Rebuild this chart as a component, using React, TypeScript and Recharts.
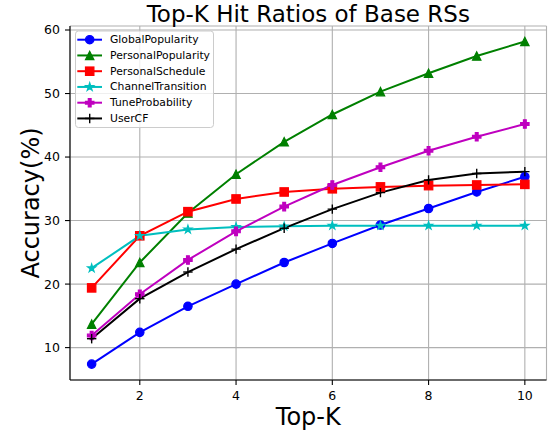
import React from 'react';
import { LineChart, Line, XAxis, YAxis, CartesianGrid } from 'recharts';

const topK = [1, 2, 3, 4, 5, 6, 7, 8, 9, 10];
const globalPopularity = [7.4, 12.4, 16.5, 20.0, 23.4, 26.4, 29.3, 31.9, 34.5, 36.9];
const personalPopularity = [13.7, 23.4, 31.2, 37.3, 42.4, 46.7, 50.3, 53.2, 55.9, 58.2];
const personalSchedule = [19.4, 27.6, 31.4, 33.4, 34.5, 35.0, 35.3, 35.5, 35.6, 35.7];
const channelTransition = [22.5, 27.6, 28.6, 29.0, 29.1, 29.2, 29.2, 29.2, 29.2, 29.2];
const tuneProbability = [11.9, 18.4, 23.8, 28.3, 32.2, 35.6, 38.4, 41.0, 43.2, 45.2];
const userCF = [11.4, 17.7, 21.9, 25.5, 28.8, 31.8, 34.4, 36.4, 37.4, 37.7];

const xTicks = [2, 4, 6, 8, 10];
const yTicks = [10, 20, 30, 40, 50, 60];

const title = 'Top-K Hit Ratios of Base RSs';
const xLabel = 'Top-K';
const yLabel = 'Accuracy(%)';

type Shape = 'circle' | 'triangle' | 'square' | 'star' | 'plusFilled' | 'plus';

const series: { key: string; values: number[]; color: string; shape: Shape }[] = [
  { key: 'GlobalPopularity', values: globalPopularity, color: '#0000ff', shape: 'circle' },
  { key: 'PersonalPopularity', values: personalPopularity, color: '#008000', shape: 'triangle' },
  { key: 'PersonalSchedule', values: personalSchedule, color: '#ff0000', shape: 'square' },
  { key: 'ChannelTransition', values: channelTransition, color: '#00bfbf', shape: 'star' },
  { key: 'TuneProbability', values: tuneProbability, color: '#bf00bf', shape: 'plusFilled' },
  { key: 'UserCF', values: userCF, color: '#000000', shape: 'plus' },
];

const data = topK.map((k, i) => {
  const row: Record<string, number> = { k };
  series.forEach((s) => {
    row[s.key] = s.values[i];
  });
  return row;
});

const FONT = 'DejaVu Sans, Verdana, sans-serif';
const MS = 8.4;

function Marker({ shape, cx, cy, color }: { shape: Shape; cx: number; cy: number; color: string }) {
  const h = MS / 2;
  const sw = 1.2;
  switch (shape) {
    case 'circle':
      return <circle cx={cx} cy={cy} r={h} fill={color} stroke={color} strokeWidth={sw} />;
    case 'triangle':
      return (
        <polygon
          points={`${cx},${cy - h} ${cx - h},${cy + h} ${cx + h},${cy + h}`}
          fill={color}
          stroke={color}
          strokeWidth={sw}
          strokeLinejoin="miter"
        />
      );
    case 'square':
      return <rect x={cx - h} y={cy - h} width={MS} height={MS} fill={color} stroke={color} strokeWidth={sw} />;
    case 'star': {
      const pts: string[] = [];
      const inner = h * 0.381966;
      for (let i = 0; i < 10; i++) {
        const r = i % 2 === 0 ? h : inner;
        const a = (Math.PI / 5) * i - Math.PI / 2;
        pts.push(`${cx + r * Math.cos(a)},${cy + r * Math.sin(a)}`);
      }
      return <polygon points={pts.join(' ')} fill={color} stroke={color} strokeWidth={sw} />;
    }
    case 'plusFilled': {
      const a = MS / 6;
      const b = h;
      const p = [
        [-a, -b], [a, -b], [a, -a], [b, -a], [b, a], [a, a], [a, b], [-a, b], [-a, a], [-b, a], [-b, -a], [-a, -a],
      ]
        .map(([x, y]) => `${cx + x},${cy + y}`)
        .join(' ');
      return <polygon points={p} fill={color} stroke={color} strokeWidth={sw} />;
    }
    case 'plus':
    default:
      return (
        <g stroke={color} strokeWidth={1.4}>
          <line x1={cx - h - 0.5} y1={cy} x2={cx + h + 0.5} y2={cy} />
          <line x1={cx} y1={cy - h - 0.5} x2={cx} y2={cy + h + 0.5} />
        </g>
      );
  }
}

const makeDot = (shape: Shape, color: string) => (props: any) => {
  const { cx, cy, index } = props;
  if (cx == null || cy == null) return <g key={`d-${index}`} />;
  return (
    <g key={`d-${shape}-${index}`}>
      <Marker shape={shape} cx={cx} cy={cy} color={color} />
    </g>
  );
};

const X_DOMAIN: [number, number] = [0.55, 10.45];
const Y_DOMAIN: [number, number] = [4.9, 60.63];

export default function App() {
  const legendX = 75.5;
  const legendY = 31;
  const rowH = 15.75;
  return (
    <div style={{ position: 'absolute', left: 0, top: 0, width: 552, height: 436, background: '#fff' }}>
      <LineChart
        width={552}
        height={436}
        data={data}
        margin={{ top: 26, right: 5.5, bottom: 0, left: 0 }}
      >
        <CartesianGrid stroke="#b0b0b0" strokeWidth={1.1} />
        <XAxis
          dataKey="k"
          type="number"
          domain={X_DOMAIN}
          allowDataOverflow
          ticks={xTicks}
          height={56}
          tickSize={5}
          tickMargin={6}
          axisLine={{ stroke: '#000', strokeWidth: 1.1 }}
          tickLine={{ stroke: '#000', strokeWidth: 1.1 }}
          tick={{ fill: '#000', fontSize: 12.5, fontFamily: FONT }}
        />
        <YAxis
          type="number"
          domain={Y_DOMAIN}
          allowDataOverflow
          ticks={yTicks}
          width={70}
          tickSize={5}
          tickMargin={5}
          axisLine={{ stroke: '#000', strokeWidth: 1.1 }}
          tickLine={{ stroke: '#000', strokeWidth: 1.1 }}
          tick={{ fill: '#000', fontSize: 12.5, fontFamily: FONT }}
        />
        <XAxis
          xAxisId="top"
          orientation="top"
          dataKey="k"
          type="number"
          domain={X_DOMAIN}
          allowDataOverflow
          height={0}
          tick={false}
          tickLine={false}
          axisLine={{ stroke: '#000', strokeWidth: 1.1 }}
        />
        <YAxis
          yAxisId="right"
          orientation="right"
          type="number"
          domain={Y_DOMAIN}
          allowDataOverflow
          width={0}
          tick={false}
          tickLine={false}
          axisLine={{ stroke: '#000', strokeWidth: 1.1 }}
        />
        {series.map((s) => (
          <Line
            key={s.key}
            dataKey={s.key}
            name={s.key}
            type="linear"
            stroke={s.color}
            strokeWidth={2}
            dot={makeDot(s.shape, s.color)}
            activeDot={false}
            isAnimationActive={false}
          />
        ))}
      </LineChart>
      <svg
        width={552}
        height={436}
        style={{ position: 'absolute', left: 0, top: 0, pointerEvents: 'none' }}
        fontFamily={FONT}
      >
        <text x={308.3} y={21.8} textAnchor="middle" fontSize={23} fill="#000">
          {title}
        </text>
        <text x={308.3} y={425} textAnchor="middle" fontSize={24} fill="#000">
          {xLabel}
        </text>
        <text transform="rotate(-90)" x={-203} y={38.5} textAnchor="middle" fontSize={24} fill="#000">
          {yLabel}
        </text>
        <rect
          x={legendX}
          y={legendY}
          width={138}
          height={96.5}
          rx={3}
          fill="#fff"
          fillOpacity={0.8}
          stroke="#cccccc"
          strokeWidth={1}
        />
        {series.map((s, i) => {
          const cy = 39.7 + i * rowH;
          return (
            <g key={s.key}>
              <line x1={77.3} y1={cy} x2={102} y2={cy} stroke={s.color} strokeWidth={2} />
              <Marker shape={s.shape} cx={89.7} cy={cy} color={s.color} />
              <text x={110} y={cy} dominantBaseline="central" fontSize={10.8} fill="#000">
                {s.key}
              </text>
            </g>
          );
        })}
      </svg>
    </div>
  );
}
